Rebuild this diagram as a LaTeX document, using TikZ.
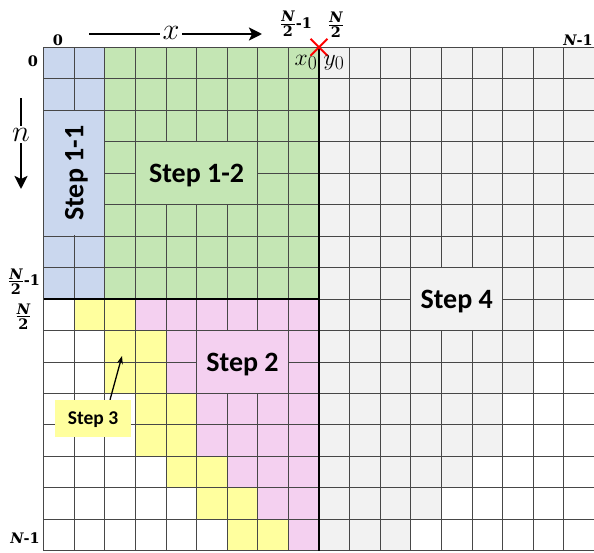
\documentclass[tikz,border=0pt]{standalone}
\usepackage{amsmath}
\usepackage{fontspec}
\newfontfamily\stepfont{Carlito}
\newfontfamily\idxfont{DejaVu Serif}
\usetikzlibrary{arrows.meta,shapes.misc}
\definecolor{cblue}{HTML}{CAD7EE}
\definecolor{cgreen}{HTML}{C4E6B4}
\definecolor{cpink}{HTML}{F4D0F0}
\definecolor{cyellow}{HTML}{FFFF9E}
\definecolor{cgray}{HTML}{F2F2F2}
\newcommand\fracpart[1]{\text{\idxfont\bfseries\fontsize{14.5}{15}\selectfont #1}}
\newcommand\halfN{{\fontsize{16}{17}\selectfont$\genfrac{}{}{1.3pt}{1}{\fracpart{\itshape N}}{\fracpart{2}}$}}
\newcommand\bN{{\idxfont\bfseries\itshape N}}
\begin{document}
\begin{tikzpicture}[x=1pt,y=-1pt,
  gridline/.style={draw=black!72,line width=0.8pt},
  divider/.style={draw=black,line width=2.6pt},
  stepbox/.style={inner sep=0pt,text depth=0pt,font=\stepfont\bfseries\fontsize{28}{30}\selectfont},
  idx/.style={inner sep=0pt,font=\idxfont\fontsize{14.5}{16}\selectfont\bfseries},
  axisarrow/.style={line width=2.5pt},
  axishead/.style={-{Stealth[length=13pt,width=13pt,inset=3pt]}},
  biglbl/.style={font=\fontsize{24.88}{26}\selectfont,scale=1.22,transform shape},
  mathlbl/.style={inner sep=0pt,font=\fontsize{24.88}{26}\selectfont,scale=0.95,transform shape},
]
\def\gx{43.6}\def\gy{47.3}\def\cw{30.6}\def\ch{31.46}
\useasboundingbox (0,0) rectangle (594,552);
% fills, top half
\fill[cblue] (\gx,\gy) rectangle ({\gx+2*\cw},{\gy+8*\ch});
\fill[cgreen] ({\gx+2*\cw},\gy) rectangle ({\gx+9*\cw},{\gy+8*\ch});
\fill[cgray] ({\gx+9*\cw},\gy) rectangle ({\gx+18*\cw},{\gy+8*\ch});
% fills, bottom half
\foreach \r/\f in {8/1,9/2,10/2,11/3,12/3,13/4,14/5,15/6}{
  \fill[cyellow] ({\gx+\f*\cw},{\gy+\r*\ch}) rectangle ({\gx+(\f+2)*\cw},{\gy+(\r+1)*\ch});
  \fill[cpink] ({\gx+(\f+2)*\cw},{\gy+\r*\ch}) rectangle ({\gx+9*\cw},{\gy+(\r+1)*\ch});
  \fill[cgray] ({\gx+9*\cw},{\gy+\r*\ch}) rectangle ({\gx+(18-\f)*\cw},{\gy+(\r+1)*\ch});
}
% grid
\foreach \c in {0,...,18} \draw[gridline] ({\gx+\c*\cw},\gy) -- ({\gx+\c*\cw},{\gy+16*\ch});
\foreach \r in {0,...,16} \draw[gridline] (\gx,{\gy+\r*\ch}) -- ({\gx+18*\cw},{\gy+\r*\ch});
% step labels
\node[stepbox,fill=cblue,rotate=90,minimum width={4*\ch-1.2},minimum height={2*\cw-1.2}] (s11) at ({\gx+\cw},{\gy+4*\ch}) {Step 1-1};
\node[stepbox,fill=cgreen,minimum width={4*\cw-1.2},minimum height={2*\ch-1.2}] (s12) at ({\gx+5*\cw},{\gy+4*\ch}) {Step 1-2};
\node[stepbox,fill=cpink,minimum width={3*\cw-1.2},minimum height={2*\ch-1.2}] (s2) at ({\gx+6.5*\cw},{\gy+10*\ch}) {Step 2};
\node[stepbox,fill=cgray,minimum width={3*\cw-1.2},minimum height={2*\ch-1.2}] (s4) at ({\gx+13.5*\cw},{\gy+8*\ch}) {Step 4};
\node[fill=cyellow,inner sep=0pt,text depth=0pt,minimum width=76pt,minimum height=37pt,font=\stepfont\bfseries\fontsize{19.5}{21}\selectfont] (s3) at (93,418.5) {Step 3};
\coordinate (s3tip) at (122,356);
\draw[line width=1.3pt,-{Stealth[length=8pt,width=6pt]}] ([xshift=17pt]s3.north) -- (s3tip);
% dividers
\draw[divider] ({\gx+9*\cw},\gy) -- ({\gx+9*\cw},{\gy+16*\ch});
\draw[divider] (\gx,{\gy+8*\ch}) -- ({\gx+9*\cw},{\gy+8*\ch});
% red cross
\node[draw=red,cross out,minimum size=15pt,inner sep=0pt,line width=2pt] (cx) at ({\gx+9*\cw},\gy) {};
% axes
\node[biglbl,inner sep=2pt] (xl) at (171,32.5) {$x$};
\coordinate (xa) at (89,34);
\coordinate (xb) at (262,34);
\draw[axisarrow] (xa) -- (xa -| xl.west);
\draw[axisarrow,axishead] (xa -| xl.east) -- (xb);
\node[biglbl,inner sep=1.5pt] (nl) at (21,134.5) {$n$};
\coordinate (na) at (21,98);
\coordinate (nb) at (21,189);
\draw[axisarrow] (na) -- (na |- nl.north);
\draw[axisarrow,axishead] (na |- nl.south) -- (nb);
% index labels
\node[idx] (t0) at (58,40) {0};
\node[idx] (l0) at (33,61) {0};
\node[idx] (th) at (296,24) {\halfN-1};
\node[idx] (tm) at (336,25) {\halfN};
\node[idx,anchor=base east] (tn) at (593,45) {\bN-1};
\node[idx] (lh) at (24,281.5) {\halfN-1};
\node[idx] (lm) at (23.5,316.5) {\halfN};
\node[idx,anchor=base] (ln) at (25,543) {\bN-1};
\node[mathlbl] (x0) at (306,62.5) {$x_0$};
\node[mathlbl] (y0) at (334,62.5) {$y_0$};
\end{tikzpicture}
\end{document}
